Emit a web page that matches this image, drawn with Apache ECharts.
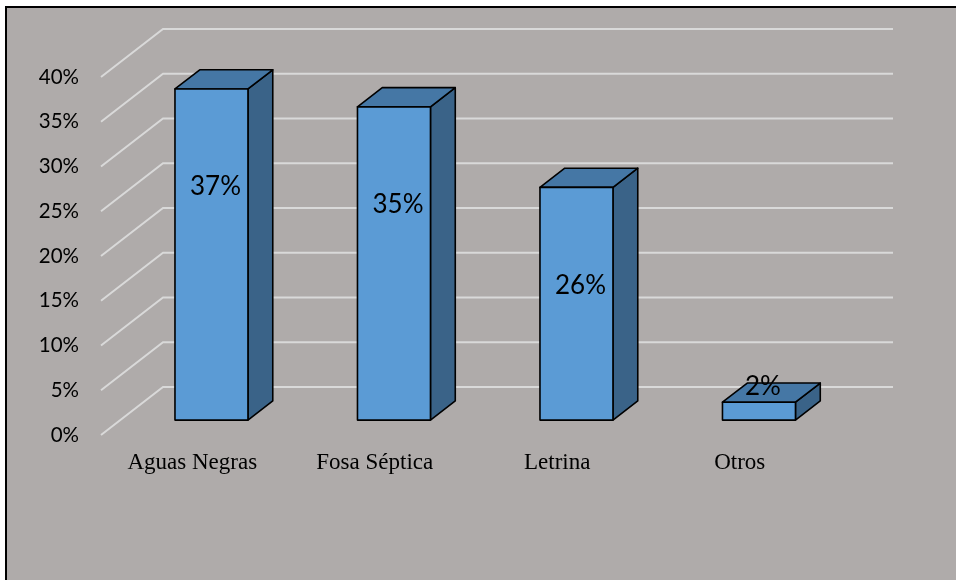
<!DOCTYPE html>
<html>
<head>
<meta charset="utf-8">
<script src="https://cdn.jsdelivr.net/npm/echarts@6/dist/echarts.min.js"></script>
<style>html,body{margin:0;padding:0;background:#fff}#c{width:956px;height:580px}</style>
</head>
<body>
<div id="c"></div>
<script>
var categories = ['Aguas Negras', 'Fosa Séptica', 'Letrina', 'Otros'];
var values = [37, 35, 26, 2];
var yTicks = [0, 5, 10, 15, 20, 25, 30, 35, 40];

var DEPTH_X = 62, DEPTH_Y = -48;   // floor depth vector (px)
var F1 = 0.31, F2 = 0.71;           // bar front/back depth fractions
var BAR_FRAC = 0.4;

var chart = echarts.init(document.getElementById('c'), null, {renderer: 'canvas'});

chart.setOption({
  backgroundColor: '#AFABAA',
  animation: false,
  grid: {left: 101, right: 125, top: 77, bottom: 145, containLabel: false},
  xAxis: {
    type: 'category',
    data: categories,
    boundaryGap: true,
    axisLine: {show: false},
    axisTick: {show: false},
    axisLabel: {color: '#000', fontFamily: 'Liberation Serif', fontSize: 23, margin: 16}
  },
  yAxis: {
    type: 'value',
    min: 0, max: 40, interval: 5,
    axisLine: {show: false},
    axisTick: {show: false},
    splitLine: {show: false},
    axisLabel: {color: '#000', fontFamily: 'Lato', fontSize: 20.5, margin: 22, formatter: '{value}%'}
  },
  graphic: [
    {type: 'rect', shape: {x: 0, y: 0, width: 956, height: 6}, style: {fill: '#fff'}},
    {type: 'rect', shape: {x: 0, y: 0, width: 5, height: 580}, style: {fill: '#fff'}},
    {type: 'line', shape: {x1: 5, y1: 7, x2: 956, y2: 7}, style: {stroke: '#000', lineWidth: 2}},
    {type: 'line', shape: {x1: 6, y1: 6, x2: 6, y2: 580}, style: {stroke: '#000', lineWidth: 2}}
  ],
  series: [
    {
      type: 'custom',
      z: 1,
      silent: true,
      data: yTicks.map(function (t) { return [0, t]; }),
      encode: {x: 0, y: 1},
      renderItem: function (params, api) {
        var cs = params.coordSys;
        var y = api.coord([0, api.value(1)])[1];
        var x0 = cs.x;
        return {
          type: 'polyline',
          shape: {points: [[x0, y], [x0 + DEPTH_X, y + DEPTH_Y], [x0 + cs.width + DEPTH_X, y + DEPTH_Y]]},
          style: {stroke: '#D9D9D9', lineWidth: 2, fill: null}
        };
      }
    },
    {
      type: 'custom',
      z: 2,
      data: values.map(function (v, i) { return [i, v]; }),
      encode: {x: 0, y: 1},
      renderItem: function (params, api) {
        var i = api.value(0), v = api.value(1);
        var top = api.coord([i, v]);
        var base = api.coord([i, 0]);
        var w = api.size([1, 0])[0] * BAR_FRAC;
        var ox = F1 * DEPTH_X, oy = F1 * DEPTH_Y;
        var dx = (F2 - F1) * DEPTH_X, dy = (F2 - F1) * DEPTH_Y;
        var xl = top[0] - w / 2 + ox, xr = top[0] + w / 2 + ox;
        var yt = top[1] + oy, yb = base[1] + oy;
        var stroke = {stroke: '#000', lineWidth: 1.6, lineJoin: 'round'};
        var labelY = Math.min(yt + 98, yb - 34);
        return {
          type: 'group',
          children: [
            {type: 'polygon', shape: {points: [[xr, yt], [xr + dx, yt + dy], [xr + dx, yb + dy], [xr, yb]]},
             style: Object.assign({fill: '#3A6388'}, stroke)},
            {type: 'polygon', shape: {points: [[xl, yt], [xr, yt], [xr + dx, yt + dy], [xl + dx, yt + dy]]},
             style: Object.assign({fill: '#4577A5'}, stroke)},
            {type: 'rect', shape: {x: xl, y: yt, width: xr - xl, height: yb - yt},
             style: Object.assign({fill: '#5B9BD5'}, stroke)},
            {type: 'text', z2: 10, style: {text: v + '%', x: (xl + xr) / 2 + 4, y: labelY,
             align: 'center', verticalAlign: 'middle', fill: '#000', fontFamily: 'Lato', fontSize: 26}}
          ]
        };
      }
    }
  ]
});
</script>
</body>
</html>
